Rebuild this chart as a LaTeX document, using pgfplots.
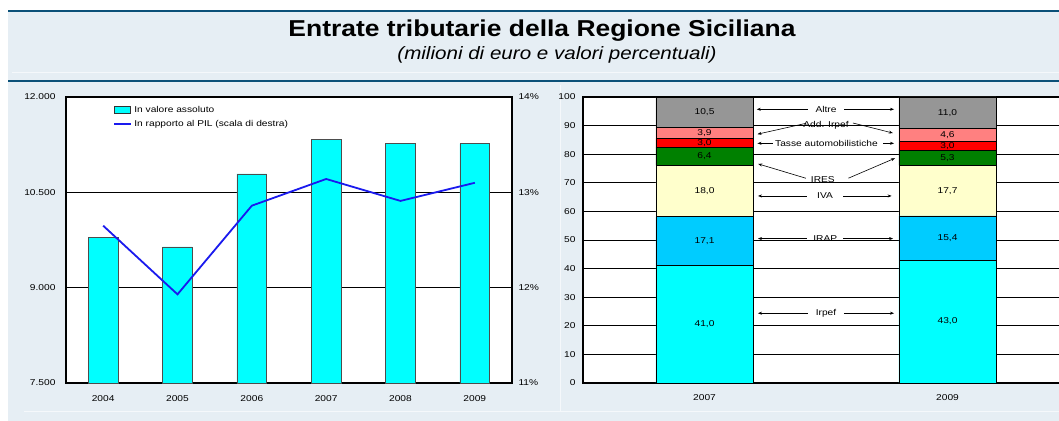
\documentclass[border=0pt]{standalone}
\usepackage{fontspec}
\setmainfont{Liberation Sans}[FakeStretch=1.2]
\newfontfamily\titlefont{Liberation Sans}[FakeStretch=1.15]
\usepackage{pgfplots}
\pgfplotsset{compat=1.18}
\usetikzlibrary{arrows.meta}
\definecolor{panelbg}{HTML}{E6EEF4}
\definecolor{rulecol}{HTML}{0A5078}
\definecolor{barcyan}{HTML}{00FFFF}
\definecolor{baredge}{HTML}{4D4D4D}
\definecolor{pilblue}{HTML}{1A1AEE}
\definecolor{irapcol}{HTML}{00CCFF}
\definecolor{ivacol}{HTML}{FFFFCC}
\definecolor{irescol}{HTML}{008000}
\definecolor{tassecol}{HTML}{FF0000}
\definecolor{addcol}{HTML}{FF8080}
\definecolor{altrecol}{HTML}{969696}

\newcommand{\sm}{\fontsize{8.5bp}{10bp}\selectfont}

\tikzset{
  vlab/.style={font=\sm, inner sep=0pt},
  arr/.style={-{Stealth[length=4bp,width=3bp]}, line width=0.6bp},
}
\pgfplotsset{
  panel/.style={
    scale only axis, height=286bp,
    axis line style={black, line width=1.1bp},
    major tick length=0pt,
    tick label style={font=\sm},
    grid style={black, line width=0.7bp},
    scaled ticks=false,
    /pgf/number format/assume math mode=true,
  },
}

\begin{document}
\begin{tikzpicture}
\useasboundingbox (0bp,0bp) rectangle (1059bp,421bp);
\clip (0bp,0bp) rectangle (1059bp,421bp);
\fill[white] (0bp,0bp) rectangle (1059bp,421bp);
\fill[panelbg] (8bp,0bp) rectangle (1059bp,411bp);
\draw[rulecol, line width=2.2bp] (8bp,410.3bp) -- (1059bp,410.3bp);
\draw[rulecol, line width=2.2bp] (8bp,340.3bp) -- (1059bp,340.3bp);
\draw[white!60!panelbg, line width=0.8bp] (12bp,348.3bp) -- (1059bp,348.3bp);
\draw[white!60!panelbg, line width=0.8bp] (560bp,10bp) -- (560bp,336bp);
\draw[white!60!panelbg, line width=0.8bp] (24bp,10bp) -- (1059bp,10bp);

\node[anchor=base] at (542bp,384.3bp) {\titlefont\bfseries\fontsize{23bp}{26bp}\selectfont Entrate tributarie della Regione Siciliana};
\node[anchor=base] at (557bp,361bp) {\titlefont\itshape\fontsize{17.9bp}{20bp}\selectfont (milioni di euro e valori percentuali)};

% left panel: absolute values (bars)
\begin{axis}[
  panel, at={(66bp,38bp)}, anchor=south west, width=446bp,
  xmin=-0.5, xmax=5.5, ymin=7500, ymax=12000,
  xtick={0,1,2,3,4,5}, xticklabels={2004,2005,2006,2007,2008,2009},
  ytick={7500,9000,10500,12000}, yticklabels={7.500,9.000,10.500,12.000},
  ymajorgrids,
  axis background/.style={fill=white},
  yticklabel style={xshift=-7bp},
  xticklabel style={yshift=-9bp},
  ybar, bar width=0.4,
]
\addplot[fill=barcyan, draw=baredge, line width=0.8bp] coordinates {
  (0,9790) (1,9640) (2,10790) (3,11330) (4,11270) (5,11265)
};
\end{axis}

% left panel: ratio to GDP (right scale)
\begin{axis}[
  panel, at={(66bp,38bp)}, anchor=south west, width=446bp,
  xmin=-0.5, xmax=5.5, ymin=11, ymax=14,
  axis x line=none, axis y line*=right,
  ytick={11,12,13,14}, yticklabels={11\%,12\%,13\%,14\%},
  yticklabel style={xshift=3bp},
  legend style={at={(0.104,0.98)}, anchor=north west, draw=none, fill=none,
    font=\sm, row sep=2.5bp, inner sep=1bp},
  legend cell align=left,
]
\addlegendimage{legend image code/.code={\draw[fill=barcyan, draw=black!80, line width=0.8bp] (0bp,-3.5bp) rectangle (16bp,3.5bp);}}
\addlegendentry{In valore assoluto}
\addplot[pilblue, line width=1.8bp, mark=none,
  legend image code/.code={\draw[pilblue, line width=1.8bp] (0bp,0bp) -- (17bp,0bp);}] coordinates {
  (0,12.65) (1,11.93) (2,12.86) (3,13.14) (4,12.91) (5,13.10)
};
\addlegendentry{In rapporto al PIL (scala di destra)}
\end{axis}

% right panel: composition
\begin{axis}[
  panel, at={(583bp,38bp)}, anchor=south west, width=486bp,
  xmin=-0.5, xmax=1.5, ymin=0, ymax=100,
  xtick={0,1}, xticklabels={2007,2009},
  ytick={0,10,...,100},
  ymajorgrids,
  axis background/.style={fill=white},
  yticklabel style={xshift=-4bp},
  xticklabel style={yshift=-8bp},
  ybar stacked, bar width=0.4,
]
\addplot[fill=barcyan, draw=black, line width=0.7bp] coordinates {(0,41.0) (1,43.0)};
\addplot[fill=irapcol, draw=black, line width=0.7bp] coordinates {(0,17.1) (1,15.4)};
\addplot[fill=ivacol, draw=black, line width=0.7bp] coordinates {(0,18.0) (1,17.7)};
\addplot[fill=irescol, draw=black, line width=0.7bp] coordinates {(0,6.4) (1,5.3)};
\addplot[fill=tassecol, draw=black, line width=0.7bp] coordinates {(0,3.0) (1,3.0)};
\addplot[fill=addcol, draw=black, line width=0.7bp] coordinates {(0,3.9) (1,4.6)};
\addplot[fill=altrecol, draw=black, line width=0.7bp] coordinates {(0,10.5) (1,11.0)};
\end{axis}

% right panel: labels on top of the bars
\begin{axis}[
  panel, at={(583bp,38bp)}, anchor=south west, width=486bp,
  xmin=-0.5, xmax=1.5, ymin=0, ymax=100,
  hide axis,
]
% segment values
\node[vlab] at (axis cs:0,20.5) {41,0};
\node[vlab] at (axis cs:0,49.55) {17,1};
\node[vlab] at (axis cs:0,67.1) {18,0};
\node[vlab] at (axis cs:0,79.3) {6,4};
\node[vlab] at (axis cs:0,84.0) {3,0};
\node[vlab] at (axis cs:0,87.45) {3,9};
\node[vlab] at (axis cs:0,94.65) {10,5};
\node[vlab] at (axis cs:1,21.5) {43,0};
\node[vlab] at (axis cs:1,50.7) {15,4};
\node[vlab] at (axis cs:1,67.25) {17,7};
\node[vlab] at (axis cs:1,78.75) {5,3};
\node[vlab] at (axis cs:1,82.9) {3,0};
\node[vlab] at (axis cs:1,86.7) {4,6};
\node[vlab] at (axis cs:1,94.5) {11,0};

% item labels between the bars
\node[vlab] at (axis cs:0.50,95.7) {Altre};
\node[vlab] at (axis cs:0.50,90.0) {Add. Irpef};
\node[vlab] at (axis cs:0.502,83.8) {Tasse automobilistiche};
\node[vlab] at (axis cs:0.487,71.0) {IRES};
\node[vlab] at (axis cs:0.496,65.4) {IVA};
\node[vlab] at (axis cs:0.497,50.5) {IRAP};
\node[vlab] at (axis cs:0.50,24.4) {Irpef};

\draw[arr] (axis cs:0.425,95.7) -- (axis cs:0.215,95.7);
\draw[arr] (axis cs:0.575,95.7) -- (axis cs:0.78,95.7);
\draw[arr] (axis cs:0.418,90.8) -- (axis cs:0.218,87.0);
\draw[arr] (axis cs:0.611,90.9) -- (axis cs:0.775,87.4);
\draw[arr] (axis cs:0.281,83.8) -- (axis cs:0.218,83.8);
\draw[arr] (axis cs:0.735,83.8) -- (axis cs:0.78,83.8);
\draw[arr] (axis cs:0.417,71.6) -- (axis cs:0.221,76.6);
\draw[arr] (axis cs:0.592,71.6) -- (axis cs:0.784,78.6);
\draw[arr] (axis cs:0.42,65.4) -- (axis cs:0.22,65.4);
\draw[arr] (axis cs:0.57,65.4) -- (axis cs:0.77,65.4);
\draw[arr] (axis cs:0.42,50.5) -- (axis cs:0.22,50.5);
\draw[arr] (axis cs:0.57,50.5) -- (axis cs:0.776,50.5);
\draw[arr] (axis cs:0.425,24.4) -- (axis cs:0.22,24.4);
\draw[arr] (axis cs:0.573,24.4) -- (axis cs:0.78,24.4);
\end{axis}
\end{tikzpicture}
\end{document}
